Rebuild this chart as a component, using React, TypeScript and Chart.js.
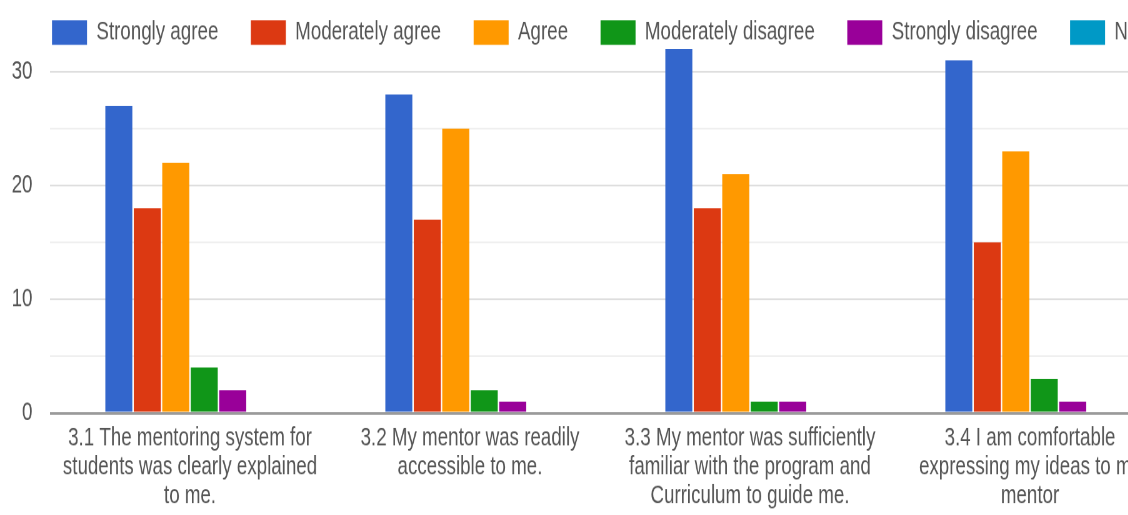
import React, { useEffect, useRef } from "react";
import { Chart, registerables } from "chart.js";

Chart.register(...registerables);

const categories: string[][] = [
  ["3.1 The mentoring system for", "students was clearly explained", "to me."],
  ["3.2 My mentor was readily", "accessible to me."],
  ["3.3 My mentor was sufficiently", "familiar with the program and", "Curriculum to guide me."],
  ["3.4 I am comfortable", "expressing my ideas to my", "mentor"],
];

const seriesNames = [
  "Strongly agree",
  "Moderately agree",
  "Agree",
  "Moderately disagree",
  "Strongly disagree",
  "Neutral",
];

const stronglyAgree = [27, 28, 32, 31];
const moderatelyAgree = [18, 17, 18, 15];
const agree = [22, 25, 21, 23];
const moderatelyDisagree = [4, 2, 1, 3];
const stronglyDisagree = [2, 1, 1, 1];
const neutral = [0, 0, 0, 0];

const seriesColors = ["#3366cc", "#dc3912", "#ff9900", "#109618", "#990099", "#0099c6"];

const yTickValues = [0, 5, 10, 15, 20, 25, 30];

// logical canvas size, stretched by CSS transform
const LW = 946;
const LH = 295;
const SX = 1.25;
const SY = 1.75;
const FONT = '"Liberation Sans", Arial, sans-serif';

const legendPlugin = {
  id: "customLegend",
  afterDraw(chart: any) {
    const ctx = chart.ctx;
    ctx.save();
    ctx.font = `15px ${FONT}`;
    ctx.textBaseline = "middle";
    ctx.textAlign = "left";
    let x = 41.6;
    const cy = 18.6;
    chart.data.datasets.forEach((ds: any) => {
      ctx.fillStyle = ds.backgroundColor;
      ctx.fillRect(x, cy - 7, 28, 14);
      ctx.fillStyle = "#555";
      ctx.fillText(ds.label, x + 35.5, cy);
      x += 35.5 + ctx.measureText(ds.label).width + 26;
    });
    ctx.restore();
  },
};

export default function App() {
  const ref = useRef<HTMLCanvasElement | null>(null);

  useEffect(() => {
    if (!ref.current) return;
    const allSeries = [stronglyAgree, moderatelyAgree, agree, moderatelyDisagree, stronglyDisagree, neutral];
    const chart = new Chart(ref.current, {
      type: "bar",
      data: {
        labels: categories,
        datasets: allSeries.map((d, i) => ({
          label: seriesNames[i],
          data: d,
          backgroundColor: seriesColors[i],
          borderWidth: 0,
          categoryPercentage: 0.61,
          barPercentage: 0.95,
        })),
      },
      options: {
        responsive: false,
        devicePixelRatio: 2,
        animation: false,
        layout: { padding: { top: 28, left: 0, right: 10, bottom: 0 } },
        plugins: {
          legend: { display: false },
          tooltip: { enabled: false },
        },
        scales: {
          x: {
            grid: { display: false },
            border: { display: false },
            ticks: {
              color: "#555",
              font: { family: FONT, size: 15, lineHeight: 1.1 },
              padding: -2,
              maxRotation: 0,
              minRotation: 0,
              autoSkip: false,
            },
            afterFit: (scale: any) => {
              scale.height = 59;
            },
          },
          y: {
            min: 0,
            max: 32,
            border: { display: false },
            grid: {
              drawTicks: false,
              color: (c: any) => {
                const v = c.tick?.value;
                if (v === 0) return "#9a9a9a";
                if (v % 10 === 0) return "#dedede";
                return "#efefef";
              },
              lineWidth: (c: any) => (c.tick?.value === 0 ? 1.5 : 1),
            },
            afterBuildTicks: (scale: any) => {
              scale.ticks = yTickValues.map((v) => ({ value: v }));
            },
            ticks: {
              color: "#555",
              font: { family: FONT, size: 15 },
              padding: 14,
              callback: (v: any) => (Number(v) % 10 === 0 ? String(v) : ""),
            },
            afterFit: (scale: any) => {
              scale.width = 40;
            },
          },
        },
      },
      plugins: [legendPlugin],
    });
    return () => chart.destroy();
  }, []);

  return (
    <div
      style={{
        position: "absolute",
        left: 0,
        top: 0,
        width: 1128,
        height: 515,
        overflow: "hidden",
        background: "#fff",
      }}
    >
      <div
        style={{
          width: LW,
          height: LH,
          transform: `scale(${SX}, ${SY})`,
          transformOrigin: "0 0",
        }}
      >
        <canvas ref={ref} width={LW} height={LH} style={{ width: LW, height: LH, display: "block" }} />
      </div>
    </div>
  );
}
